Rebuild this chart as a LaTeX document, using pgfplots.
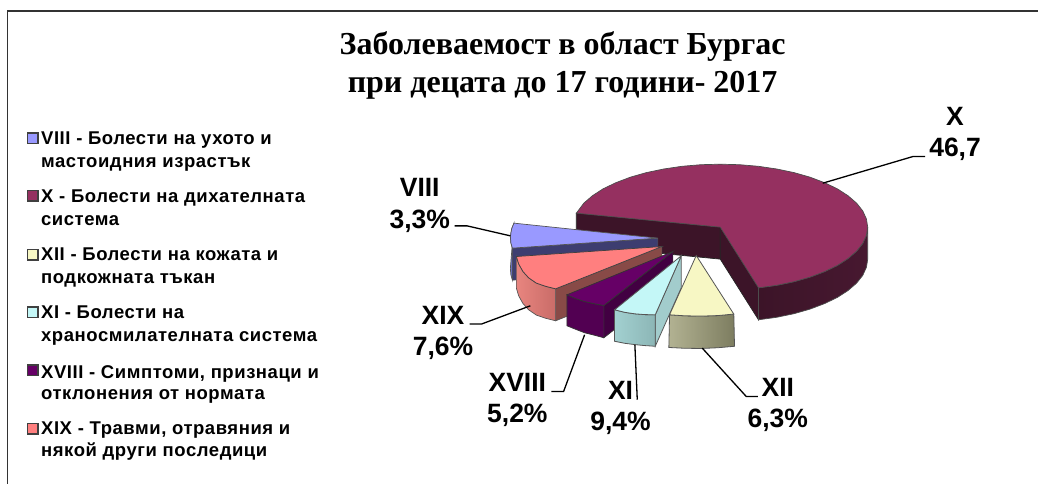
\documentclass[border=0pt]{standalone}
\usepackage{fontspec}
\setmainfont{Liberation Sans}
\newfontfamily\titlefont{Liberation Serif}
\newfontfamily\legfont[LetterSpace=3]{Liberation Sans}
\usepackage{pgfplots}
\pgfplotsset{compat=1.18}
\definecolor{xtop}{HTML}{953060}
\definecolor{xside}{HTML}{3C1428}
\definecolor{xwallb}{HTML}{471830}
\definecolor{viiitop}{HTML}{9999FF}
\definecolor{viiiface}{HTML}{3D3D70}
\definecolor{viiiwall}{HTML}{6A70BE}
\definecolor{xixtop}{HTML}{FF7F7F}
\definecolor{xixa}{HTML}{E8857F}
\definecolor{xixb}{HTML}{C96C68}
\definecolor{xixface}{HTML}{884A47}
\definecolor{xviiitop}{HTML}{660066}
\definecolor{xviiiwall}{HTML}{520052}
\definecolor{xviiiface}{HTML}{420042}
\definecolor{xitop}{HTML}{C4F7F7}
\definecolor{xia}{HTML}{A2D0D0}
\definecolor{xib}{HTML}{8CB6B6}
\definecolor{xiface}{HTML}{A2CCCC}
\definecolor{xiitop}{HTML}{F7F7C4}
\definecolor{xiia}{HTML}{B2B292}
\definecolor{xiib}{HTML}{7D7D60}
\definecolor{edge}{HTML}{555555}
\tikzset{
  lab/.style={font=\fontsize{26.5}{26.5}\selectfont\bfseries,anchor=base,inner sep=0pt},
  leg/.style={font=\legfont\fontsize{18.5}{18.5}\selectfont\bfseries,anchor=base west,inner sep=0pt},
}
\begin{document}
\begin{tikzpicture}
\begin{axis}[
  width=1039pt,height=484pt,scale only axis,
  xmin=0,xmax=1039,ymin=0,ymax=484,y dir=reverse,
  axis lines=none,clip=false,enlargelimits=false,
]
\path (axis cs:0,0) rectangle (axis cs:1039,484);
% frame
\addplot[draw=black!80,line width=1.4pt] coordinates {(7.5,484) (7.5,11) (1039,11)};
% X
\addplot[fill=xside,draw=black!85,line width=.7pt] coordinates {(576.7,213.3) (720.7,227.3) (720.7,259.3) (576.7,245.3)} --cycle;
\addplot[fill=xside,draw=black!85,line width=.7pt] coordinates {(720.7,227.3) (759,288) (759,320) (720.7,259.3)} --cycle;
\addplot[left color=xside,right color=xwallb,draw=black!70,line width=.7pt] coordinates {(868.3,227.3) (867.0,235.5) (863.3,243.6) (857.1,251.4) (848.5,258.8) (837.8,265.7) (825.1,271.8) (810.6,277.3) (794.5,281.9) (777.2,285.5) (759,288) (759,320) (777.2,317.5) (794.5,313.9) (810.6,309.3) (825.1,303.8) (837.8,297.7) (848.5,290.8) (857.1,283.4) (863.3,275.6) (867.0,267.5) (868.3,259.3)} --cycle;
\addplot[fill=xtop,draw=black!70,line width=.7pt] coordinates {(720.7,227.3) (576.7,213.3) (584.3,203.2) (592.9,195.8) (603.6,188.9) (616.3,182.8) (630.8,177.3) (646.9,172.7) (664.2,169.1) (682.5,166.4) (701.4,164.8) (720.7,164.3) (740.0,164.8) (758.9,166.4) (777.2,169.1) (794.5,172.7) (810.6,177.3) (825.1,182.8) (837.8,188.9) (848.5,195.8) (857.1,203.2) (863.3,211.0) (867.0,219.1) (868.3,227.3) (867.0,235.5) (863.3,243.6) (857.1,251.4) (848.5,258.8) (837.8,265.7) (825.1,271.8) (810.6,277.3) (794.5,281.9) (777.2,285.5) (759,288)} --cycle;
% VIII
\addplot[fill=viiiwall,draw=edge,line width=.7pt] coordinates {(514.3,223.3) (512,229) (510.7,236.7) (511.2,243) (512.7,248.3) (512.7,280.3) (511.2,275) (510.7,268.7)} --cycle;
\addplot[fill=viiiface,draw=black!70,line width=.7pt] coordinates {(512.7,248.3) (658.3,238.3) (658.3,270.3) (512.7,280.3)} --cycle;
\addplot[fill=viiitop,draw=edge,line width=.7pt] coordinates {(658.3,238.3) (514.3,223.3) (512,229) (510.7,236.7) (511.2,243) (512.7,248.3)} --cycle;
% XIX
\addplot[fill=xixface,draw=edge,line width=.7pt] coordinates {(556,289) (662.3,246.7) (662.3,278.7) (556,321)} --cycle;
\addplot[left color=xixa,right color=xixb,draw=edge,line width=.7pt] coordinates {(516.7,256.7) (519,264) (523.3,271.7) (529,278) (536.7,283.3) (546,286.5) (556,289) (556,321) (546,318.5) (536.7,315.3) (529,310) (523.3,303.7) (519,296) (516.7,288.3)} --cycle;
\addplot[fill=xixtop,draw=black!75,line width=.7pt] coordinates {(662.3,246.7) (516.7,256.7) (519,264) (523.3,271.7) (529,278) (536.7,283.3) (546,286.5) (556,289)} --cycle;
% XVIII
\addplot[fill=xviiiface,draw=black!80,line width=.7pt] coordinates {(604.3,305.7) (673.3,251.7) (673.3,283.7) (604.3,338)} --cycle;
\addplot[fill=xviiiwall,draw=black!80,line width=.7pt] coordinates {(567.3,295) (576,298.8) (585,301.7) (595,304) (604.3,305.7) (604.3,338) (595,335.5) (585,333) (576,329.5) (567.3,326)} --cycle;
\addplot[fill=xviiitop,draw=black!80,line width=.7pt] coordinates {(673.3,251.7) (567.3,295) (576,298.8) (585,301.7) (595,304) (604.3,305.7)} --cycle;
% XI
\addplot[fill=xiface,draw=edge,line width=.8pt] coordinates {(655.7,315) (681.7,256) (681.7,288) (655.7,346.5)} --cycle;
\addplot[left color=xia,right color=xib,draw=edge,line width=.8pt] coordinates {(615,310) (625,312.5) (635,314) (645,314.8) (655.7,315) (655.7,346.5) (645,345.8) (635,344.8) (625,343.5) (615,341.5)} --cycle;
\addplot[fill=xitop,draw=edge,line width=.8pt] coordinates {(681.7,256) (615,310) (625,312.5) (635,314) (645,314.8) (655.7,315)} --cycle;
% XII
\addplot[left color=xiia,right color=xiib,draw=edge,line width=.8pt] coordinates {(670,315) (685,316) (701.7,316.3) (718,315.8) (734.3,314.3) (735,346.5) (718,348) (701.7,348.7) (685,348.5) (669.3,347.7)} --cycle;
\addplot[fill=xiitop,draw=edge,line width=.8pt] coordinates {(696.7,255.7) (670,315) (685,316) (701.7,316.3) (718,315.8) (734.3,314.3)} --cycle;
% leader lines
\addplot[black,line width=1.3pt] coordinates {(823.3,183.3) (913.3,156.7) (925.7,156.7)};
\addplot[black,line width=1.3pt] coordinates {(510.7,236) (467.3,226) (455,226)};
\addplot[black,line width=1.3pt] coordinates {(530.7,306) (481.7,324.3) (470,324.3)};
\addplot[black,line width=1.3pt] coordinates {(585,335) (564,391.7) (551.7,391.7)};
\addplot[black,line width=1.3pt] coordinates {(635.3,345) (637.7,400)};
\addplot[black,line width=1.3pt] coordinates {(702.7,348.3) (746.7,396.7) (758.3,396.7)};
% legend markers
\addplot[only marks,mark=square*,mark size=5.2pt,mark options={fill=viiitop,draw=black!75,line width=1.6pt}] coordinates {(32.7,138.3)};
\addplot[only marks,mark=square*,mark size=5.2pt,mark options={fill=xtop,draw=black!75,line width=1.6pt}] coordinates {(32.7,196)};
\addplot[only marks,mark=square*,mark size=5.2pt,mark options={fill=xiitop,draw=black!75,line width=1.6pt}] coordinates {(32.7,255)};
\addplot[only marks,mark=square*,mark size=5.2pt,mark options={fill=xitop,draw=black!75,line width=1.6pt}] coordinates {(32.7,312.7)};
\addplot[only marks,mark=square*,mark size=5.2pt,mark options={fill=xviiitop,draw=black!75,line width=1.6pt}] coordinates {(32.7,370.7)};
\addplot[only marks,mark=square*,mark size=5.2pt,mark options={fill=xixtop,draw=black!75,line width=1.6pt}] coordinates {(32.7,429)};
% title
\node[font=\titlefont\fontsize{32}{32}\selectfont\bfseries,anchor=base,inner sep=0pt] at (axis cs:563,55) {Заболеваемост в област Бургас};
\node[font=\titlefont\fontsize{32}{32}\selectfont\bfseries,anchor=base,inner sep=0pt] at (axis cs:563,92.3) {при децата до 17 години- 2017};
% legend text
\node[leg] at (axis cs:41,145) {VIII - Болести на ухото и};
\node[leg] at (axis cs:41,167.3) {мастоидния израстък};
\node[leg] at (axis cs:41,202.7) {X - Болести на дихателната};
\node[leg] at (axis cs:41,226) {система};
\node[leg] at (axis cs:41,260.7) {XII - Болести на кожата и};
\node[leg] at (axis cs:41,284) {подкожната тъкан};
\node[leg] at (axis cs:41,318.3) {XI - Болести на};
\node[leg] at (axis cs:41,341.7) {храносмилателната система};
\node[leg] at (axis cs:41,378.3) {XVIII - Симптоми, признаци и};
\node[leg] at (axis cs:41,400) {отклонения от нормата};
\node[leg] at (axis cs:41,435) {XIX - Травми, отравяния и};
\node[leg] at (axis cs:41,457.3) {някой други последици};
% data labels
\node[lab] at (axis cs:955.7,126) {X};
\node[lab] at (axis cs:955.7,157) {46,7};
\node[lab] at (axis cs:420,196.3) {VIII};
\node[lab] at (axis cs:420,228.3) {3,3\%};
\node[lab] at (axis cs:443.3,325) {XIX};
\node[lab] at (axis cs:443.3,355.7) {7,6\%};
\node[lab] at (axis cs:517.7,391.7) {XVIII};
\node[lab] at (axis cs:517.7,423) {5,2\%};
\node[lab] at (axis cs:621,399.7) {XI};
\node[lab] at (axis cs:621,430.7) {9,4\%};
\node[lab] at (axis cs:778.3,396.3) {XII};
\node[lab] at (axis cs:778.3,428) {6,3\%};
\end{axis}
\end{tikzpicture}
\end{document}
